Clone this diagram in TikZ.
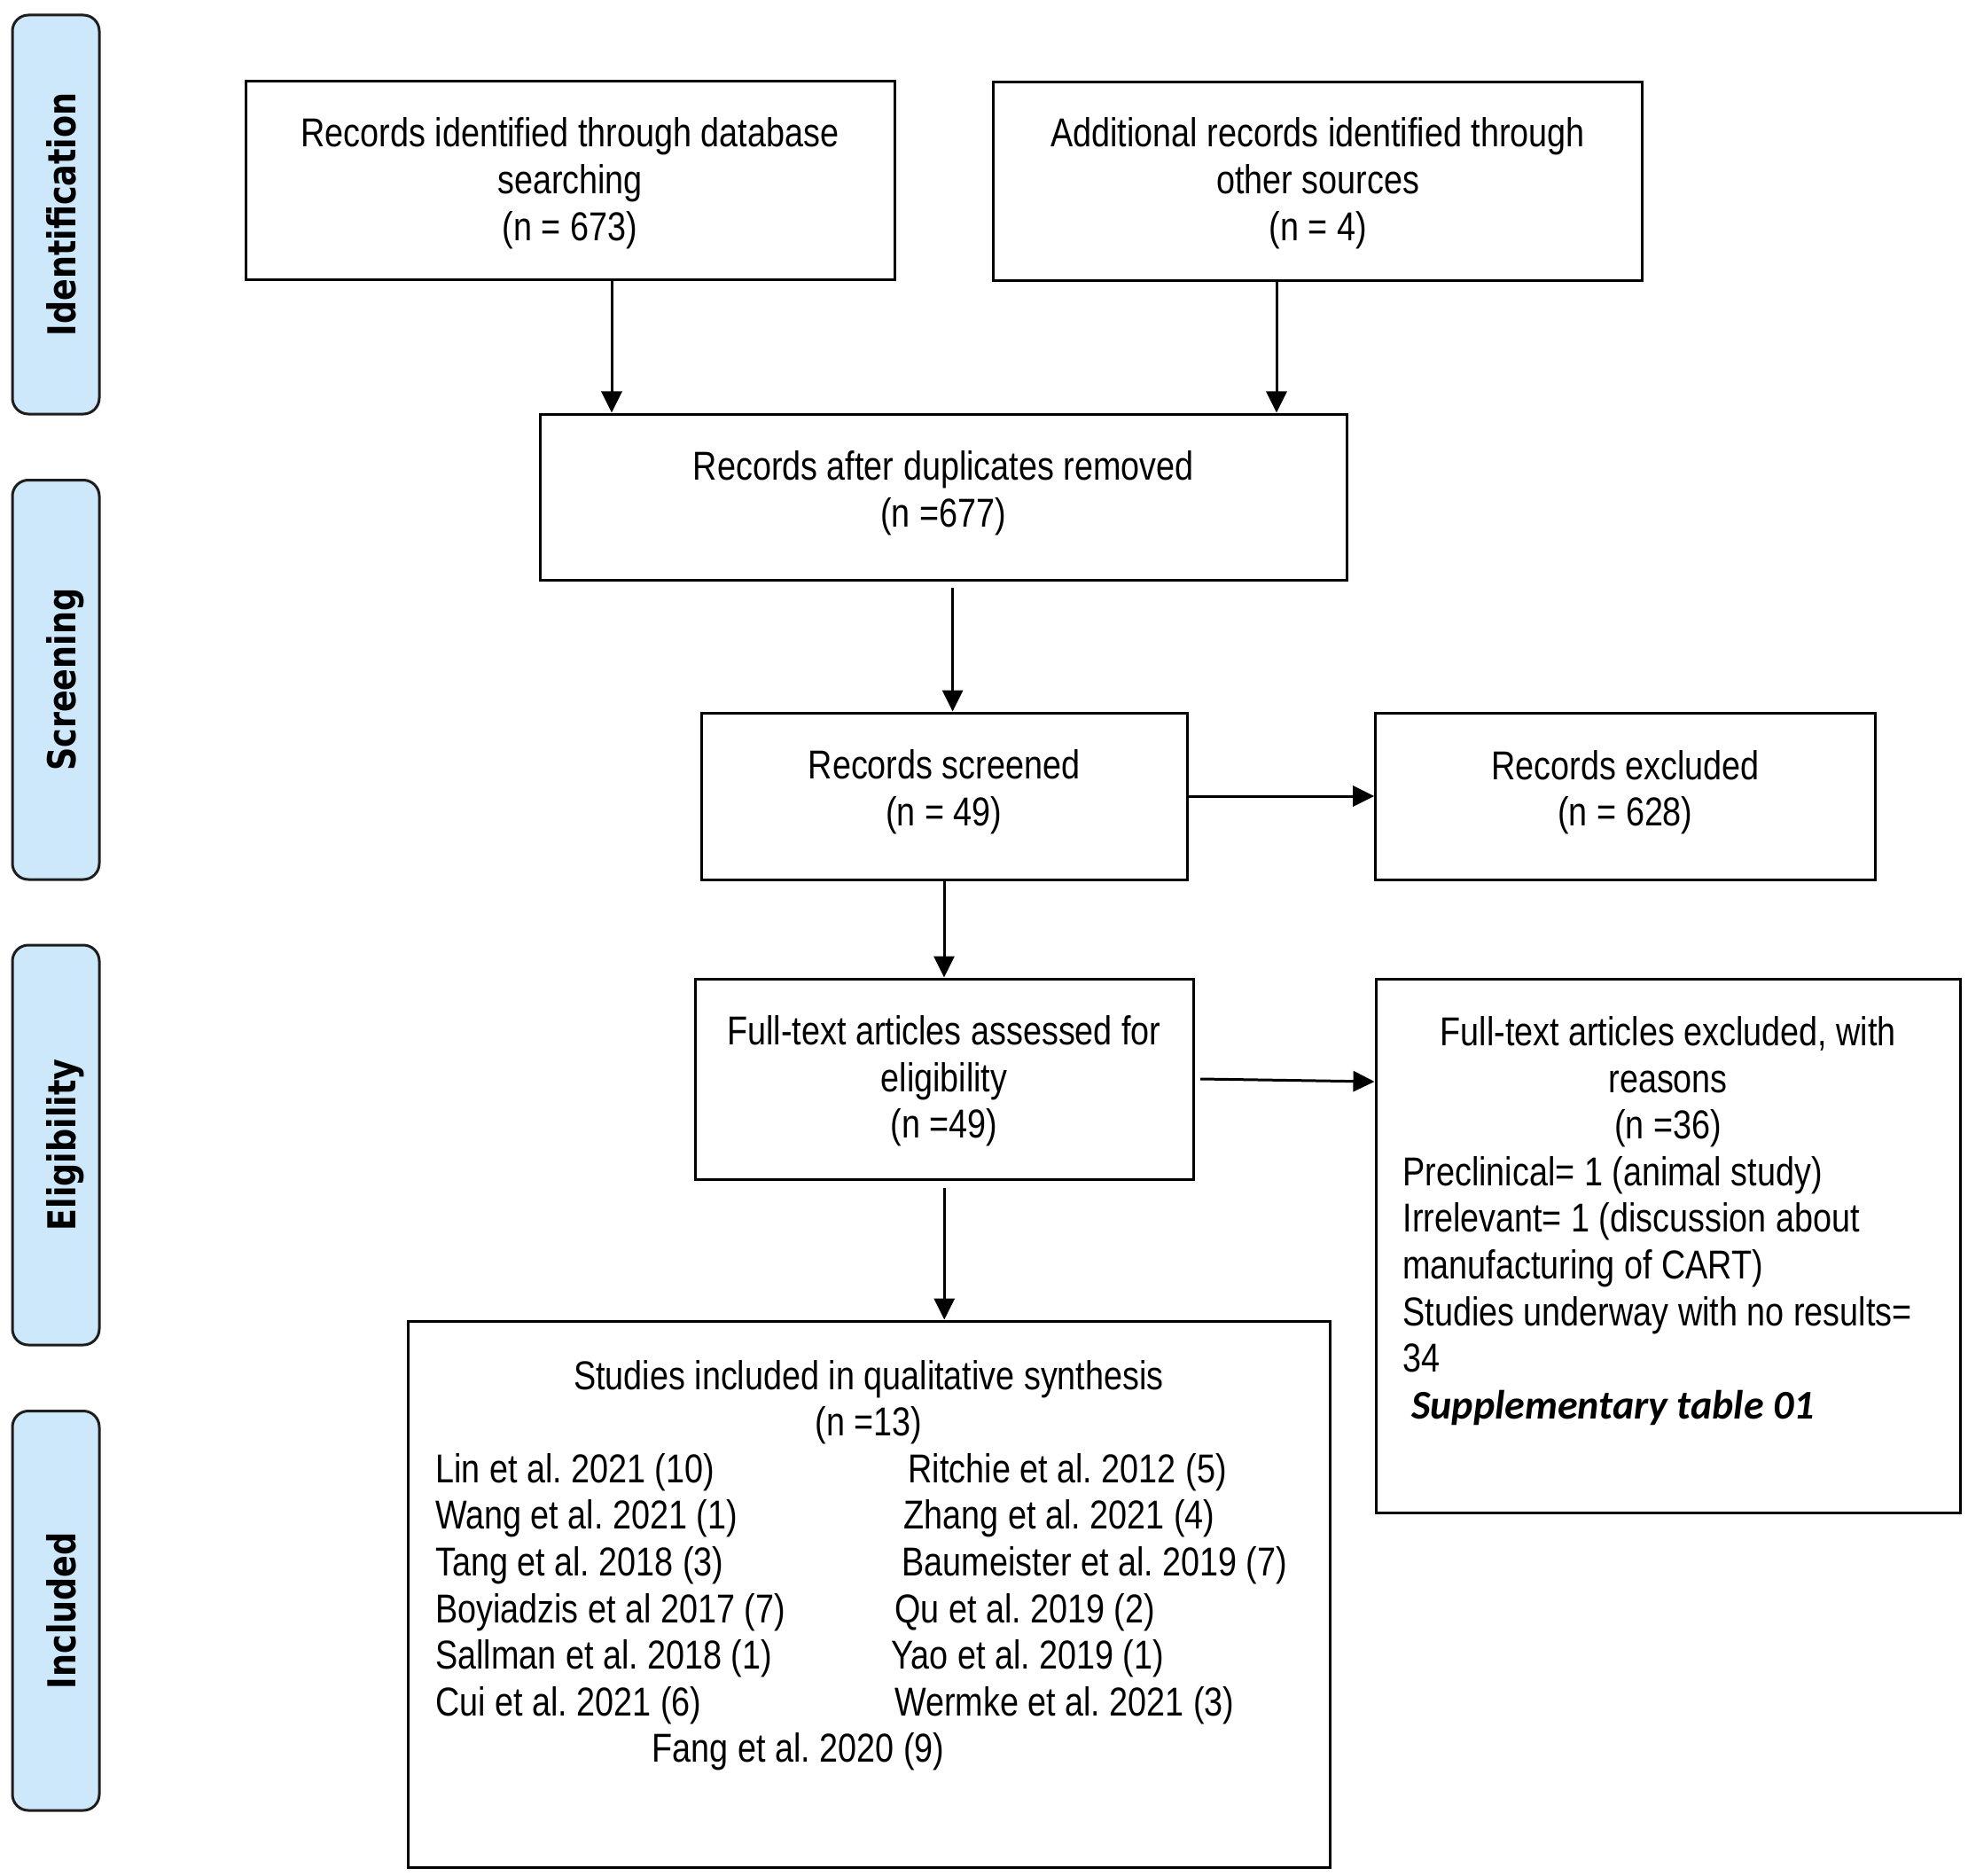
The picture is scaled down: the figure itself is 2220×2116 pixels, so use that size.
\documentclass[tikz,border=0pt]{standalone}
\usepackage{fontspec}
\setmainfont{Liberation Sans}[FakeStretch=0.83]
\newfontfamily\sidefont{DejaVu Sans}[FakeStretch=0.84]
\newfontfamily\calfont{Carlito}
\usetikzlibrary{arrows.meta}
\definecolor{sidefill}{HTML}{CCE8FA}
\definecolor{sideline}{HTML}{1E1E1E}
\frenchspacing
\begin{document}
\begin{tikzpicture}[x=1pt,y=-1pt,
  box/.style={draw=black, line width=3pt, fill=white, inner sep=0pt},
  sidebox/.style={draw=sideline, line width=3pt, fill=sidefill, rounded corners=18pt, inner sep=0pt, minimum width=98pt},
  t/.style={inner sep=0pt, anchor=base, font=\fontsize{45.5}{52.6}\selectfont},
  tl/.style={t, anchor=base west},
  sidetxt/.style={inner sep=0pt, anchor=base, rotate=90, font=\sidefont\bfseries\fontsize{43.5}{50}\selectfont},
  arr/.style={line width=3pt, -{Triangle[length=24pt,width=23pt]}}
]
\fill[white] (0,0) rectangle (2220,2116);
\useasboundingbox (0,0) rectangle (2220,2116);

% phase labels
\node[sidebox, minimum height=450pt] (s1) at (63,242) {};
\node[sidebox, minimum height=450.5pt] (s2) at (63,766.75) {};
\node[sidebox, minimum height=451pt] (s3) at (63,1291.5) {};
\node[sidebox, minimum height=450.5pt] (s4) at (63,1816.75) {};
\node[sidetxt] (s1t) at (85,242) {Identification};
\node[sidetxt] (s2t) at (85,766.75) {Screening};
\node[sidetxt] (s3t) at (85,1291.5) {Eligibility};
\node[sidetxt] (s4t) at (85,1816.75) {Included};

% boxes
\node[box, minimum width=732pt, minimum height=224pt] (b1) at (643,204) {};
\node[box, minimum width=732pt, minimum height=224.6pt] (b2) at (1486.6,204.7) {};
\node[box, minimum width=909.5pt, minimum height=187.5pt] (dup) at (1064.25,560.75) {};
\node[box, minimum width=548pt, minimum height=188pt] (scr) at (1065,898) {};
\node[box, minimum width=563.3pt, minimum height=188pt] (exc) at (1833.35,898) {};
\node[box, minimum width=562.5pt, minimum height=226pt] (ft) at (1065.25,1217) {};
\node[box, minimum width=659.5pt, minimum height=602pt] (ex2) at (1881.75,1405) {};
\node[box, minimum width=1040pt, minimum height=616pt] (stud) at (980,1798) {};

% arrows
\draw[arr] ([xshift=47pt]b1.south) -- ([xshift=47pt]b1.south |- dup.north);
\draw[arr] ([xshift=-46.6pt]b2.south) -- ([xshift=-46.6pt]b2.south |- dup.north);
\draw[arr] ([xshift=10.35pt,yshift=-7pt]dup.south) -- ([xshift=10.35pt]dup.south |- scr.north);
\draw[arr] (scr.south) -- (scr.south |- ft.north);
\draw[arr] (scr.east) -- (exc.west);
\draw[arr] ([xshift=6pt]ft.east) -- ([yshift=-3pt]ft.east -| ex2.west);
\draw[arr] ([yshift=-8pt]ft.south) -- (ft.south |- stud.north);

% texts
\node[t] (b1a) at (643,166) {Records identified through database};
\node[t] (b1b) at (643,218.6) {searching};
\node[t] (b1c) at (643,271.2) {(n = 673)};

\node[t] (b2a) at (1486.6,166) {Additional records identified through};
\node[t] (b2b) at (1486.6,218.6) {other sources};
\node[t] (b2c) at (1486.6,271.2) {(n = 4)};

\node[t] (dupa) at (1064.25,541.5) {Records after duplicates removed};
\node[t] (dupb) at (1064.25,594.1) {(n =677)};

\node[t] (scra) at (1065,878.5) {Records screened};
\node[t] (scrb) at (1065,931.1) {(n = 49)};

\node[t] (exca) at (1833.5,879) {Records excluded};
\node[t] (excb) at (1833.5,931.6) {(n = 628)};

\node[t] (fta) at (1065,1178.5) {Full-text articles assessed for};
\node[t] (ftb) at (1065,1231.1) {eligibility};
\node[t] (ftc) at (1065,1283.7) {(n =49)};

\node[t] (exa) at (1881.7,1179.5) {Full-text articles excluded, with};
\node[t] (exb) at (1881.7,1232.1) {reasons};
\node[t] (exc3) at (1881.7,1284.7) {(n =36)};
\node[tl] (exd) at (1582.3,1337.3) {Preclinical= 1 (animal study)};
\node[tl] (exe) at (1582.3,1389.9) {Irrelevant= 1 (discussion about};
\node[tl] (exf) at (1582.3,1442.5) {manufacturing of CART)};
\node[tl] (exg) at (1582.3,1495.1) {Studies underway with no results=};
\node[tl] (exh) at (1582.3,1547.7) {34};
\node[tl, font=\calfont\bfseries\itshape\fontsize{46}{52.6}\selectfont] (exi) at (1592,1600.3) {Supplementary table 01};

\node[t] (sta) at (980,1567) {Studies included in qualitative synthesis};
\node[t] (stb) at (980,1619.6) {(n =13)};
\node[tl] (l1) at (491,1672.2) {Lin et al. 2021 (10)};
\node[tl] (l2) at (491,1724.8) {Wang et al. 2021 (1)};
\node[tl] (l3) at (491,1777.4) {Tang et al. 2018 (3)};
\node[tl] (l4) at (491,1830) {Boyiadzis et al 2017 (7)};
\node[tl] (l5) at (491,1882.6) {Sallman et al. 2018 (1)};
\node[tl] (l6) at (491,1935.2) {Cui et al. 2021 (6)};
\node[tl] (r1) at (1024.5,1672.2) {Ritchie et al. 2012 (5)};
\node[tl] (r2) at (1019.5,1724.8) {Zhang et al. 2021 (4)};
\node[tl] (r3) at (1017.4,1777.4) {Baumeister et al. 2019 (7)};
\node[tl] (r4) at (1009,1830) {Qu et al. 2019 (2)};
\node[tl] (r5) at (1005,1882.6) {Yao et al. 2019 (1)};
\node[tl] (r6) at (1009,1935.2) {Wermke et al. 2021 (3)};
\node[tl] (f1) at (735.6,1987.8) {Fang et al. 2020 (9)};
\end{tikzpicture}
\end{document}
